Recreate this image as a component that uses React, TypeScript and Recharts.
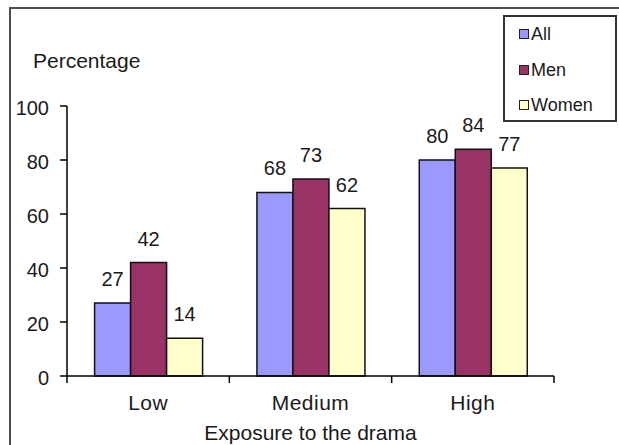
import { Bar, BarChart, LabelList, Legend, XAxis, YAxis } from 'recharts';

const CATEGORIES = ['Low', 'Medium', 'High'];
const ALL = [27, 68, 80];
const MEN = [42, 73, 84];
const WOMEN = [14, 62, 77];
const Y_TICKS = [0, 20, 40, 60, 80, 100];

const SERIES = [
  { key: 'all', name: 'All', values: ALL, color: '#9999ff' },
  { key: 'men', name: 'Men', values: MEN, color: '#993366' },
  { key: 'women', name: 'Women', values: WOMEN, color: '#ffffcc' },
];

const data = CATEGORIES.map((name, i) => {
  const row: Record<string, string | number> = { name };
  SERIES.forEach((s) => {
    row[s.key] = s.values[i];
  });
  return row;
});

const W = 619;
const H = 445;
const MARGIN = { top: 106, right: 65, bottom: 0, left: 0 };
const Y_AXIS_W = 67;
const X_AXIS_H = 69;
const FONT = '"Liberation Sans", Arial, sans-serif';
const TEXT = '#1a1a1a';

// category labels, with the tick marks drawn on the band edges rather than the centre
function CategoryTick(props: any) {
  const { x, y, payload, index } = props;
  const plotW = W - MARGIN.left - MARGIN.right - Y_AXIS_W;
  const half = payload?.offset || plotW / CATEGORIES.length / 2;
  const last = index === CATEGORIES.length - 1;
  return (
    <g>
      <line x1={x - half} x2={x - half} y1={y} y2={y + 7} stroke="#000" strokeWidth={1.5} />
      {last && <line x1={x + half} x2={x + half} y1={y} y2={y + 7} stroke="#000" strokeWidth={1.5} />}
      <text
        x={x}
        y={y + 34}
        textAnchor="middle"
        fontSize={21}
        letterSpacing={0.5}
        fill={TEXT}
        fontFamily={FONT}
      >
        {payload.value}
      </text>
    </g>
  );
}

function LegendBox({ payload }: any) {
  return (
    <div
      style={{
        boxSizing: 'border-box',
        width: 114,
        height: 107,
        border: '2px solid #333',
        background: '#fff',
        position: 'relative',
        fontFamily: FONT,
      }}
    >
      {(payload || []).map((entry: any, i: number) => (
        <div
          key={entry.value}
          style={{
            position: 'absolute',
            left: 14,
            top: 8 + i * 35.5,
            display: 'flex',
            alignItems: 'center',
            fontSize: 18,
            lineHeight: '18px',
            color: TEXT,
          }}
        >
          <span
            style={{
              display: 'inline-block',
              boxSizing: 'border-box',
              width: 10,
              height: 10,
              border: '1.5px solid #222',
              background: entry.color,
              marginRight: 2,
            }}
          />
          {entry.value}
        </div>
      ))}
    </div>
  );
}

export default function App() {
  return (
    <div
      style={{
        position: 'absolute',
        left: 0,
        top: 0,
        width: W,
        height: H,
        overflow: 'hidden',
        background: '#fff',
      }}
    >
      <div
        style={{
          position: 'absolute',
          left: 9,
          top: 7,
          width: 700,
          height: 600,
          border: '2.5px solid #4d4d4d',
        }}
      />
      <div style={{ position: 'absolute', left: 0, top: 0 }}>
        <BarChart
          width={W}
          height={H}
          data={data}
          margin={MARGIN}
          barCategoryGap="17%"
          barGap={0}
        >
          <XAxis
            dataKey="name"
            height={X_AXIS_H}
            axisLine={{ stroke: '#000', strokeWidth: 1.5 }}
            tickLine={false}
            tickSize={0}
            tickMargin={0}
            tick={<CategoryTick />}
            interval={0}
            label={{
              value: 'Exposure to the drama',
              position: 'insideBottom',
              offset: 5,
              fontSize: 21,
              fill: TEXT,
              fontFamily: FONT,
            }}
          />
          <YAxis
            width={Y_AXIS_W}
            domain={[0, 100]}
            ticks={Y_TICKS}
            interval={0}
            tickSize={7}
            tickMargin={11}
            axisLine={{ stroke: '#000', strokeWidth: 1.5 }}
            tickLine={{ stroke: '#000', strokeWidth: 1.5 }}
            tick={{ fontSize: 20, fill: TEXT, fontFamily: FONT, dy: 2 }}
            label={{
              value: 'Percentage',
              content: ({ viewBox }: any) => (
                <text
                  x={viewBox.x + 33}
                  y={viewBox.y - 38}
                  fontSize={21}
                  fill={TEXT}
                  fontFamily={FONT}
                >
                  Percentage
                </text>
              ),
            }}
          />
          <Legend
            layout="vertical"
            align="center"
            verticalAlign="middle"
            content={<LegendBox />}
            wrapperStyle={{ left: 503, top: 15, width: 114, height: 107 }}
          />
          {SERIES.map((s) => (
            <Bar
              key={s.key}
              dataKey={s.key}
              name={s.name}
              fill={s.color}
              stroke="#111"
              strokeWidth={1.5}
              isAnimationActive={false}
            >
              <LabelList
                dataKey={s.key}
                position="top"
                offset={17}
                fontSize={20}
                fill={TEXT}
                fontFamily={FONT}
              />
            </Bar>
          ))}
        </BarChart>
      </div>
    </div>
  );
}
